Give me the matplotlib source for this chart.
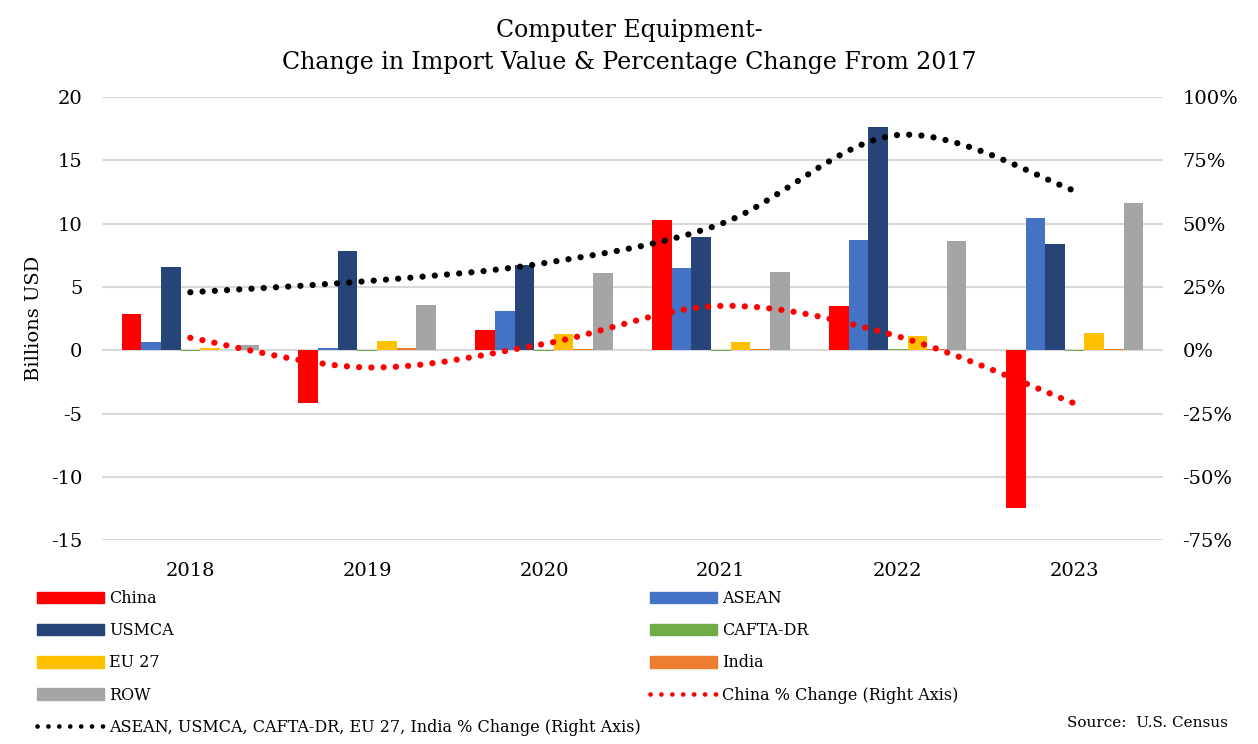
import numpy as np
import matplotlib
matplotlib.use('Agg')
import matplotlib.pyplot as plt
from matplotlib.path import Path
from matplotlib.patches import PathPatch, Patch
from matplotlib.lines import Line2D
from matplotlib.ticker import FuncFormatter, MultipleLocator

plt.rcParams['font.family'] = ['DejaVu Serif']
plt.rcParams['axes.unicode_minus'] = False

anos = ['2018', '2019', '2020', '2021', '2022', '2023']

# variação do valor importado (bilhões USD) por região
china = [2.84, -4.2, 1.6, 10.3, 3.48, -12.5]
asean = [0.63, 0.2, 3.08, 6.53, 8.74, 10.43]
usmca = [6.55, 7.8, 6.7, 8.95, 17.6, 8.43]
cafta = [-0.05, -0.05, -0.05, -0.05, 0.1, -0.05]
eu27 = [0.21, 0.76, 1.26, 0.63, 1.16, 1.34]
india = [0.05, 0.15, 0.1, 0.1, 0.1, 0.1]
row = [0.45, 3.58, 6.1, 6.2, 8.63, 11.59]

# variação percentual desde 2017 (eixo direito)
china_pct = [0.049, -0.068, 0.025, 0.175, 0.055, -0.21]
outros_pct = [0.229, 0.273, 0.344, 0.499, 0.85, 0.63]

series = [('China', china, '#ff0000'),
          ('ASEAN', asean, '#4472c4'),
          ('USMCA', usmca, '#264478'),
          ('CAFTA-DR', cafta, '#70ad47'),
          ('EU 27', eu27, '#ffc000'),
          ('India', india, '#ed7d31'),
          ('ROW', row, '#a5a5a5')]

fig = plt.figure(figsize=(12.58, 7.44), dpi=100)
ax = fig.add_axes([0.081, 0.274, 0.8435, 0.5956])
ax2 = ax.twinx()

x = np.arange(len(anos))
w = 0.111
for i, (nome, vals, cor) in enumerate(series):
    ax.bar(x + (i - 3) * w, vals, w, color=cor, zorder=2)

ax.set_xlim(-0.5, len(anos) - 0.5)
ax.set_ylim(-15, 20)
ax.yaxis.set_major_locator(MultipleLocator(5))
ax.grid(axis='y', color='#d9d9d9', lw=1.5, zorder=0)
ax.set_axisbelow(True)
ax.set_xticks(x)
ax.set_xticklabels(anos)
ax.tick_params(axis='both', length=0, labelsize=14, pad=14)
ax.tick_params(axis='x', pad=16)
for s in ax.spines.values():
    s.set_visible(False)
ax.set_ylabel('Billions USD', fontsize=14, labelpad=6)

ax2.set_ylim(-0.75, 1.0)
ax2.yaxis.set_major_locator(MultipleLocator(0.25))
ax2.yaxis.set_major_formatter(FuncFormatter(lambda v, p: f'{v * 100:.0f}%'))
ax2.tick_params(axis='y', length=0, labelsize=14, pad=14)
for s in ax2.spines.values():
    s.set_visible(False)


def curva(axx, xs, ys, cor):
    # linha suavizada (bezier) estilo excel
    pts = np.column_stack([xs, ys]).astype(float)
    n = len(pts)
    verts = [pts[0]]
    codes = [Path.MOVETO]
    for k in range(n - 1):
        p0 = pts[max(k - 1, 0)]
        p1 = pts[k]
        p2 = pts[k + 1]
        p3 = pts[min(k + 2, n - 1)]
        c1 = p1 + (p2 - p0) / 6
        c2 = p2 - (p3 - p1) / 6
        verts += [c1, c2, p2]
        codes += [Path.CURVE4] * 3
    pp = PathPatch(Path(verts, codes), fill=False, edgecolor=cor, lw=4.5,
                   linestyle=(0, (0.01, 1.95)), capstyle='round', zorder=3)
    axx.add_patch(pp)


curva(ax2, x, outros_pct, 'black')
curva(ax2, x, china_pct, '#ff0000')

fig.text(0.5, 0.975, 'Computer Equipment-', ha='center', va='top', fontsize=17)
fig.text(0.5, 0.932, 'Change in Import Value & Percentage Change From 2017',
         ha='center', va='top', fontsize=17)

h = {nome: Patch(color=cor) for nome, vals, cor in series}
lred = Line2D([], [], color='#ff0000', lw=3.4, linestyle=(0, (0.01, 2.3)),
              dash_capstyle='round')
lblk = Line2D([], [], color='black', lw=3.4, linestyle=(0, (0.01, 2.3)),
              dash_capstyle='round')
handles = [h['China'], h['USMCA'], h['EU 27'], h['ROW'], lblk,
           h['ASEAN'], h['CAFTA-DR'], h['India'], lred]
labels = ['China', 'USMCA', 'EU 27', 'ROW',
          'ASEAN, USMCA, CAFTA-DR, EU 27, India % Change (Right Axis)',
          'ASEAN', 'CAFTA-DR', 'India', 'China % Change (Right Axis)']
fig.legend(handles, labels, ncol=2, loc='upper left',
           bbox_to_anchor=(37 / 1258, 1 - 590 / 744), frameon=False,
           fontsize=11.5, handlelength=4.2, handleheight=0.75,
           labelspacing=0.95, columnspacing=0.6, borderpad=0,
           borderaxespad=0, handletextpad=0.3)

fig.text(1228 / 1258, 1 - 723 / 744, 'Source:  U.S. Census', ha='right',
         va='center', fontsize=11)

fig.savefig('out.png', dpi=100)
